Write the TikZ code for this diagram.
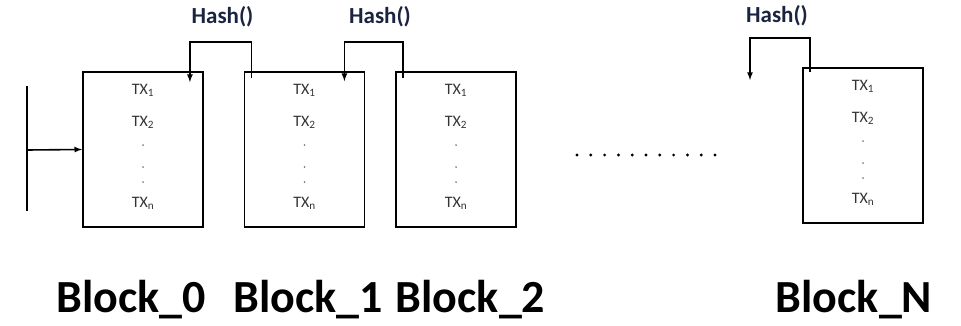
\documentclass[tikz,border=0pt]{standalone}
\usepackage{fontspec}
\setmainfont{Carlito}
\definecolor{hashbleu}{RGB}{26,36,64}
\begin{document}
\begin{tikzpicture}[x=1pt, y=-1pt, every node/.style={inner sep=0pt}]
    \useasboundingbox (0,0) rectangle (961,326);
    \tikzset{
        bloc/.style={draw, line width=1.8pt, minimum width=120pt, minimum height=155pt},
        tx/.style={anchor=base, text=black!80, font=\fontsize{16}{18}\selectfont},
        hash/.style={anchor=base, text=hashbleu, font=\fontsize{23}{26}\selectfont\bfseries},
        nom/.style={anchor=base, font=\fontsize{46}{50}\selectfont\bfseries},
        lien/.style={line width=1.6pt, -latex}
    }

    % Blocs
    \foreach \b/\cx/\cy in {b0/143/149.5, b1/304.5/149.5, b2/456/149.5, bN/863/145.5} {
        \node[bloc] (\b) at (\cx,\cy) {};
        \node[tx] at ([shift={(0,23)}]\b.north) {TX\textsubscript{1}};
        \node[tx] at ([shift={(0,55)}]\b.north) {TX\textsubscript{2}};
        \node[tx] at ([shift={(0,136)}]\b.north) {TX\textsubscript{n}};
        \foreach \d in {74, 96, 111}
            \fill[black!55] ([shift={(0,\d)}]\b.north) circle (0.9);
    }

    % Noms des blocs
    \node[nom] (n0) at (131.5,312) {Block\_0};
    \node[nom] (n1) at (308,312) {Block\_1};
    \node[nom] (n2) at (470.5,312) {Block\_2};
    \node[nom] (nN) at (854,312) {Block\_N};

    % Entree
    \coordinate (entree) at (27,150);
    \draw[line width=1.8pt] (27,86) -- (27,211);
    \draw[lien] (entree) -- (b0.west);

    % Liens Hash()
    \coordinate (h1a) at ([shift={(8,7)}]b1.north west);
    \coordinate (h1b) at ([shift={(-14,11)}]b0.north east);
    \coordinate (h2a) at ([shift={(8,7)}]b2.north west);
    \coordinate (h2b) at ([shift={(-21,10)}]b1.north east);
    \coordinate (hNa) at ([shift={(8,5)}]bN.north west);
    \coordinate (hNb) at (750,80);
    \draw[lien] (h1a) -- ++(0,-36) -| (h1b);
    \draw[lien] (h2a) -- ++(0,-36) -| (h2b);
    \draw[lien] (hNa) -- ++(0,-34) -| (hNb);
    \node[hash] (hash1) at (222.5,24) {Hash()};
    \node[hash] (hash2) at (380,24) {Hash()};
    \node[hash] (hashN) at (777,23) {Hash()};

    % Points de suspension
    \foreach \i in {0,...,10}
        \fill (577+13.8*\i,155) circle (1.6);

\end{tikzpicture}
\end{document}
